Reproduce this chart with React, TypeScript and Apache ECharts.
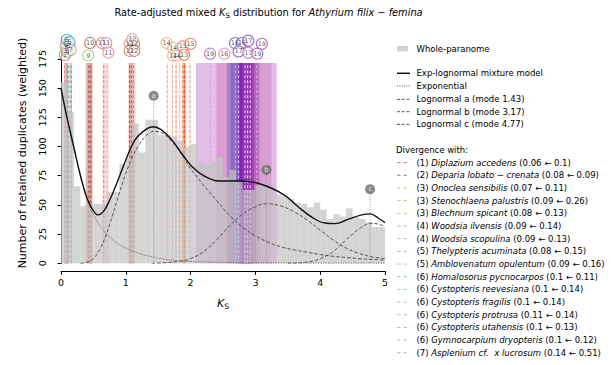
import React, { useEffect, useRef } from 'react';
import * as echarts from 'echarts';

const FONT = 'DejaVu Sans';

// ---------- histogram (bin width 0.1 Ks) ----------
const binWidth = 0.1;
const histValues = [
  155, 130, 66, 49, 51, 51, 51, 61, 61, 85,
  90, 120, 95, 123, 123, 110, 110, 108, 105, 100,
  102, 87, 85, 87, 91, 74, 80, 70, 63, 63,
  67, 66, 66, 59, 58, 55, 52, 51, 48, 52,
  46, 38, 42, 40, 47, 40, 38, 35, 31, 31,
];

// ---------- fitted curves [Ks, value] ----------
const mixtureCurve = [
  [0, 150], [0.05, 136], [0.1, 123], [0.15, 111], [0.2, 99], [0.3, 75], [0.4, 56], [0.5, 45],
  [0.57, 41.5], [0.65, 44], [0.75, 54], [0.85, 67], [1.0, 88.5], [1.14, 105.5], [1.3, 114.3],
  [1.42, 117], [1.55, 114.3], [1.71, 105.7], [1.86, 94.3], [2.02, 83], [2.22, 74.5],
  [2.43, 70.5], [2.6, 70.5], [2.8, 70.5], [3.04, 68.6], [3.25, 64.3], [3.46, 58], [3.66, 48.5],
  [3.87, 39.5], [4.07, 34.5], [4.23, 34], [4.43, 37.7], [4.64, 41.5], [4.77, 42.3],
  [4.9, 38.6], [5.0, 34.8],
];
const exponentialCurve = [
  [0, 150], [0.1, 122], [0.2, 98], [0.3, 76], [0.4, 55], [0.5, 42], [0.6, 32], [0.7, 25.5],
  [0.8, 20], [0.9, 16], [1.0, 13], [1.2, 8.5], [1.4, 5.5], [1.6, 3.5], [1.8, 2.3], [2.0, 1.6],
  [2.5, 0.8], [3.0, 0.4], [4.0, 0.2], [5.0, 0.1],
];
const lognormalA = [
  [0.3, 0], [0.4, 1], [0.5, 4], [0.6, 12], [0.7, 25], [0.8, 42], [0.9, 60], [1.0, 77],
  [1.1, 91], [1.2, 101], [1.3, 108.5], [1.43, 113], [1.55, 112], [1.7, 105], [1.8, 98],
  [1.9, 90], [2.0, 81], [2.2, 67], [2.4, 54], [2.6, 41], [2.8, 31], [3.0, 23.5], [3.2, 18],
  [3.4, 14], [3.6, 11.5], [3.8, 9.5], [4.0, 7.5], [4.2, 6], [4.4, 5], [4.6, 4], [4.8, 3.3], [5.0, 2.8],
];
const lognormalB = [
  [1.4, 0], [1.6, 0.5], [1.8, 1.5], [2.0, 4], [2.2, 10], [2.4, 20], [2.6, 32], [2.8, 42],
  [3.0, 48.5], [3.17, 51], [3.4, 49], [3.6, 44], [3.8, 37], [4.0, 28.5], [4.2, 20], [4.4, 13],
  [4.6, 8.5], [4.8, 5.5], [5.0, 4],
];
const lognormalC = [
  [3.5, 0], [3.7, 0.5], [3.9, 2], [4.0, 4], [4.1, 6.5], [4.2, 10], [4.3, 15], [4.4, 20],
  [4.5, 25], [4.6, 29.5], [4.7, 33], [4.78, 34.3], [4.9, 33.5], [5.0, 31.5],
];

// ---------- peak markers ----------
const peakLabels = ['a', 'b', 'c'];
const peakKs = [1.43, 3.17, 4.77];
const peakMarkerY = [143.5, 80, 63.5];

// ---------- divergence lines / bands ----------
const bandTop = 171.5;
const divKs = [
  0.06, 0.08, 0.07, 0.09, 0.08, 0.09, 0.09, 0.08, 0.09, 0.1, 0.1, 0.1, 0.11, 0.1, 0.1, 0.14, 0.16,
  0.41, 0.43, 0.46,
  0.66, 0.71,
  1.06, 1.09, 1.12,
  1.64, 1.72, 1.775, 1.83, 1.905, 1.88, 1.99,
  2.3, 2.52, 2.69, 2.74, 2.84, 2.88, 2.92, 3.02,
];
const divLow = [
  0.05, 0.075, 0.065, 0.08, 0.075, 0.085, 0.085, 0.075, 0.085, 0.095, 0.095, 0.095, 0.105, 0.095, 0.095, 0.13, 0.15,
  0.39, 0.38, 0.43,
  0.64, 0.69,
  1.04, 1.06, 1.1,
  1.635, 1.715, 1.77, 1.825, 1.885, 1.875, 1.985,
  2.08, 2.4, 2.56, 2.62, 2.73, 2.76, 2.79, 2.8,
];
const divHigh = [
  0.07, 0.085, 0.075, 0.1, 0.085, 0.095, 0.095, 0.085, 0.095, 0.105, 0.105, 0.105, 0.115, 0.105, 0.105, 0.15, 0.17,
  0.43, 0.48, 0.49,
  0.69, 0.74,
  1.09, 1.12, 1.15,
  1.645, 1.725, 1.78, 1.835, 1.925, 1.885, 1.995,
  3.33, 3.25, 2.96, 2.94, 2.94, 2.98, 3.04, 3.07,
];
const divColor = [
  '#f07878', '#7b7be0', '#e6c088', '#e6c088', '#e6c088', '#8fd89c', '#8fd89c', '#f2a6c2', '#f2a6c2',
  '#8fd0d8', '#8fd0d8', '#8fd0d8', '#8fd0d8', '#8fd0d8', '#8fd0d8', '#d9a890', '#a8a8a8',
  '#88dd88', '#c05858', '#c87060',
  '#e89090', '#f0a8a8',
  '#c86060', '#d07868', '#d89078',
  '#f8b8a0', '#f8b8a0', '#f8a890', '#f8b8a0', '#ff5a1e', '#f89070', '#f8b090',
  '#c070c8', '#c860b0', '#6a50c8', '#5a3cb8', '#6010a0', '#7a18a8', '#9a30b0', '#b040b8',
];
const divAlpha = [
  0.5, 0.5, 0.5, 0.5, 0.5, 0.5, 0.5, 0.5, 0.5, 0.5, 0.5, 0.5, 0.5, 0.5, 0.5, 0.5, 0.5,
  0.3, 0.35, 0.35,
  0.3, 0.3,
  0.35, 0.35, 0.35,
  0.5, 0.5, 0.5, 0.5, 0.55, 0.4, 0.5,
  0.45, 0.35, 0.4, 0.35, 0.5, 0.5, 0.4, 0.35,
];
const divLineColor = [
  '#f07878', '#7b7be0', '#e6c088', '#e6c088', '#e6c088', '#8fd89c', '#8fd89c', '#f2a6c2', '#f2a6c2',
  '#5fb8c4', '#5fb8c4', '#8fd0d8', '#5fb8c4', '#8fd0d8', '#5fb8c4', '#d9a890', '#a0a0a0',
  '#88dd88', '#b04848', '#b85848',
  '#e08080', '#f0a8a8',
  '#b85050', '#c86858', '#d08870',
  '#f8a890', '#f8a890', '#f89878', '#f8b8a0', '#ff4a10', '#f88060', '#f8a080',
  '#d8a0e0', '#e8a0d0', '#c0b0f8', '#d0c0f8', '#e8d0f8', '#f0d8f8', '#e8c8f0', '#d8a8e0',
];

// ---------- numbered circles (species id, Ks, height) ----------
const circleId = [
  '1', '2', '3', '3', '4', '5', '6', '6', '7',
  '9', '10',
  '11', '11', '11',
  '12', '12', '12', '12', '12',
  '14', '14', '14', '14', '15', '15', '13',
  '19', '16', '16', '16', '17', '17', '17', '19', '19',
];
const circleKs = [
  0.06, 0.095, 0.07, 0.12, 0.1, 0.08, 0.09, 0.13, 0.15,
  0.42, 0.45,
  0.63, 0.7, 0.73,
  1.06, 1.13, 1.06, 1.13, 1.1,
  1.63, 1.73, 1.73, 1.79, 1.88, 2.0, 1.9,
  2.3, 2.52, 2.685, 2.79, 2.74, 2.89, 2.89, 3.1, 3.03,
];
const circleY = [
  178.5, 183.5, 185.5, 186, 181, 188, 191.5, 189.5, 183,
  178, 188.8,
  188.7, 188.7, 180.5,
  188, 188, 182, 182, 192,
  188.7, 184.5, 177.8, 177.8, 185.8, 188, 178.6,
  179.6, 179.6, 188.7, 188.7, 181.5, 190.7, 180.3, 188, 179.6,
];
const circleColor = [
  '#f07070', '#7b7be0', '#e0a860', '#e0a860', '#70c878', '#f2a0c0', '#3aa6b6', '#3aa6b6', '#c89070',
  '#80d880', '#c06060',
  '#e08080', '#e08080', '#e08888',
  '#d89080', '#d07070', '#d07070', '#c86060', '#e0a080',
  '#f8a888', '#f8a888', '#f8a888', '#f8a888', '#f06848', '#f07050', '#f86030',
  '#b060c0', '#e080b0', '#6060c8', '#6060c8', '#8050c0', '#9040c0', '#c060c8', '#a050c0', '#a050c0',
];

// ---------- legend ----------
const legendNum = ['1', '2', '3', '3', '3', '4', '4', '5', '5', '6', '6', '6', '6', '6', '6', '7'];
const legendName = [
  'Diplazium accedens', 'Deparia lobato − crenata', 'Onoclea sensibilis', 'Stenochlaena palustris',
  'Blechnum spicant', 'Woodsia ilvensis', 'Woodsia scopulina', 'Thelypteris acuminata',
  'Amblovenatum opulentum', 'Homalosorus pycnocarpos', 'Cystopteris reevesiana', 'Cystopteris fragilis',
  'Cystopteris protrusa', 'Cystopteris utahensis', 'Gymnocarpium dryopteris', 'Asplenium cf.  x lucrosum',
];
const legendRange = [
  '(0.06 ← 0.1)', '(0.08 ← 0.09)', '(0.07 ← 0.11)', '(0.09 ← 0.26)', '(0.08 ← 0.13)', '(0.09 ← 0.14)',
  '(0.09 ← 0.13)', '(0.08 ← 0.15)', '(0.09 ← 0.16)', '(0.1 ← 0.11)', '(0.1 ← 0.14)', '(0.1 ← 0.14)',
  '(0.11 ← 0.14)', '(0.1 ← 0.13)', '(0.1 ← 0.12)', '(0.14 ← 0.51)',
];
const legendColor = [
  '#f07878', '#7b7be0', '#e6c088', '#e6c088', '#e6c088', '#8fd89c', '#8fd89c', '#f2a6c2', '#f2a6c2',
  '#8fd0d8', '#8fd0d8', '#8fd0d8', '#8fd0d8', '#8fd0d8', '#8fd0d8', '#d9a890',
];
const modelLegend = [
  'Exp-lognormal mixture model', 'Exponential', 'Lognormal a (mode 1.43)',
  'Lognormal b (mode 3.17)', 'Lognormal c (mode 4.77)',
];

const yTickValues = [0, 25, 50, 75, 100, 125, 150, 175];

export default function App() {
  const ref = useRef<HTMLDivElement>(null);

  useEffect(() => {
    const chart = echarts.init(ref.current as HTMLDivElement, null, { renderer: 'svg' });

    const LX = 397;
    const LT = 416.5;
    const graphic: any[] = [];
    const legFont = 8.5;

    graphic.push({
      type: 'text', x: 268.5, y: 12,
      style: {
        text: '{t|Rate-adjusted mixed }{i|K}{s|S}{t| distribution for }{i|Athyrium filix − femina}',
        align: 'center', verticalAlign: 'middle',
        rich: {
          t: { fontSize: 9.8, fontFamily: FONT, fill: '#000', lineHeight: 14 },
          i: { fontSize: 9.8, fontFamily: FONT, fontStyle: 'italic', fill: '#000', lineHeight: 14 },
          s: { fontSize: 7, fontFamily: FONT, fill: '#000', lineHeight: 8, verticalAlign: 'bottom' },
        },
      },
    });
    graphic.push({
      type: 'text', x: 223, y: 303,
      style: {
        text: '{i|K}{s|S}', align: 'center', verticalAlign: 'middle',
        rich: {
          i: { fontSize: 11, fontFamily: FONT, fontStyle: 'italic', fill: '#000', lineHeight: 14 },
          s: { fontSize: 7.5, fontFamily: FONT, fill: '#000', lineHeight: 8, verticalAlign: 'bottom' },
        },
      },
    });
    graphic.push({
      type: 'text', x: 22, y: 153, rotation: Math.PI / 2,
      style: {
        text: 'Number of retained duplicates (weighted)', fontSize: 11, fontFamily: FONT,
        fill: '#000', align: 'center', verticalAlign: 'middle',
      },
    });

    // model legend
    graphic.push({ type: 'rect', shape: { x: LX, y: 46, width: 11, height: 5.5 }, style: { fill: '#d3d3d3' } });
    graphic.push({
      type: 'text', x: LT, y: 49,
      style: { text: 'Whole-paranome', fontSize: legFont, fontFamily: FONT, fill: '#000', verticalAlign: 'middle' },
    });
    const modelY = [73.3, 86, 99.3, 111.7, 124.3];
    const modelStyle = [
      { stroke: '#111', lineWidth: 1.5 },
      { stroke: '#555', lineWidth: 1, lineDash: [1, 1.3] },
      { stroke: '#555', lineWidth: 1, lineDash: [3, 1.7] },
      { stroke: '#555', lineWidth: 1, lineDash: [3, 1.7] },
      { stroke: '#555', lineWidth: 1, lineDash: [3, 1.7] },
    ];
    modelLegend.forEach((t, i) => {
      graphic.push({ type: 'line', shape: { x1: LX, y1: modelY[i], x2: LX + 13, y2: modelY[i] }, style: modelStyle[i] });
      graphic.push({
        type: 'text', x: LT, y: modelY[i],
        style: { text: t, fontSize: legFont, fontFamily: FONT, fill: '#000', verticalAlign: 'middle' },
      });
    });
    graphic.push({
      type: 'text', x: 396, y: 150,
      style: { text: 'Divergence with:', fontSize: legFont, fontFamily: FONT, fill: '#000', verticalAlign: 'middle' },
    });
    legendName.forEach((name, i) => {
      const y = 162.6 + i * 12.68;
      graphic.push({
        type: 'line', shape: { x1: LX, y1: y, x2: LX + 13, y2: y },
        style: { stroke: legendColor[i], lineWidth: 1, lineDash: [3.5, 3] },
      });
      graphic.push({
        type: 'text', x: LT, y,
        style: {
          text: `{n|(${legendNum[i]}) }{i|${name}}{n| ${legendRange[i]}}`,
          verticalAlign: 'middle',
          rich: {
            n: { fontSize: legFont, fontFamily: FONT, fill: '#000' },
            i: { fontSize: legFont, fontFamily: FONT, fontStyle: 'italic', fill: '#000' },
          },
        },
      });
    });

    const option: any = {
      animation: false,
      backgroundColor: '#fff',
      grid: { left: 61, right: 226, top: 38, bottom: 101.7, containLabel: false },
      xAxis: {
        type: 'value', min: 0, max: 5, interval: 1, offset: 8,
        axisLine: { show: true, onZero: false, lineStyle: { color: '#000', width: 1 } },
        axisTick: { show: true, length: 3.5, lineStyle: { color: '#000', width: 1 } },
        axisLabel: { fontSize: 9.5, fontFamily: FONT, color: '#000', margin: 6 },
        splitLine: { show: false },
      },
      yAxis: {
        type: 'value', min: 0, max: 193, interval: 25, offset: 8,
        axisLine: { show: true, lineStyle: { color: '#000', width: 1 } },
        axisTick: { show: true, length: 3.5, customValues: yTickValues, lineStyle: { color: '#000', width: 1 } },
        axisLabel: { fontSize: 9.5, fontFamily: FONT, color: '#000', margin: 6, rotate: 90, customValues: yTickValues },
        splitLine: { show: false },
      },
      series: [
        {
          type: 'custom', z: 1, silent: true,
          data: divKs.map((k, i) => [divLow[i], divHigh[i], i]),
          encode: { x: [0, 1] },
          renderItem: (params: any, api: any) => {
            const i = params.dataIndex;
            const p0 = api.coord([divLow[i], 0]);
            const p1 = api.coord([divHigh[i], bandTop]);
            return {
              type: 'rect',
              shape: { x: p0[0], y: p1[1], width: Math.max(p1[0] - p0[0], 0.8), height: p0[1] - p1[1] },
              style: { fill: divColor[i], opacity: divAlpha[i] },
            };
          },
        },
        {
          type: 'custom', z: 2, silent: true,
          data: divKs.map((k, i) => [k, i]),
          encode: { x: 0 },
          renderItem: (params: any, api: any) => {
            const i = params.dataIndex;
            const p0 = api.coord([divKs[i], 0]);
            const p1 = api.coord([divKs[i], bandTop]);
            return {
              type: 'line',
              shape: { x1: p0[0], y1: p0[1], x2: p1[0], y2: p1[1] },
              style: { stroke: divLineColor[i], lineWidth: 1.1, lineDash: [3, 2] },
            };
          },
        },
        {
          type: 'custom', z: 3, silent: true,
          data: histValues.map((v, i) => [i * binWidth, (i + 1) * binWidth, v]),
          encode: { x: [0, 1], y: 2 },
          renderItem: (params: any, api: any) => {
            const p0 = api.coord([api.value(0), 0]);
            const p1 = api.coord([api.value(1), api.value(2)]);
            return {
              type: 'rect',
              shape: { x: p0[0], y: p1[1], width: p1[0] - p0[0], height: p0[1] - p1[1] },
              style: { fill: '#c4c4c4', opacity: 0.72 },
            };
          },
        },
        {
          type: 'custom', z: 4, silent: true,
          data: peakKs.map((k, i) => [k, peakMarkerY[i]]),
          encode: { x: 0, y: 1 },
          renderItem: (params: any, api: any) => {
            const i = params.dataIndex;
            const p0 = api.coord([peakKs[i], peakMarkerY[i]]);
            const p1 = api.coord([peakKs[i], 0]);
            return {
              type: 'line',
              shape: { x1: p0[0], y1: p0[1], x2: p1[0], y2: p1[1] },
              style: { stroke: '#9a9a9a', lineWidth: 1, lineDash: [1, 1.5] },
            };
          },
        },
        {
          type: 'line', z: 5, silent: true, data: exponentialCurve, smooth: 0.4, showSymbol: false,
          lineStyle: { color: '#555', width: 1, type: [1, 1.5] },
        },
        {
          type: 'line', z: 5, silent: true, data: lognormalA, smooth: 0.4, showSymbol: false,
          lineStyle: { color: '#555', width: 1, type: [3.5, 2] },
        },
        {
          type: 'line', z: 5, silent: true, data: lognormalB, smooth: 0.4, showSymbol: false,
          lineStyle: { color: '#555', width: 1, type: [3.5, 2] },
        },
        {
          type: 'line', z: 5, silent: true, data: lognormalC, smooth: 0.4, showSymbol: false,
          lineStyle: { color: '#555', width: 1, type: [3.5, 2] },
        },
        {
          type: 'line', z: 6, silent: true, data: mixtureCurve, smooth: 0.4, showSymbol: false,
          lineStyle: { color: '#111', width: 1.4 },
        },
        {
          type: 'scatter', z: 7, silent: true, symbol: 'circle', symbolSize: 10,
          data: peakKs.map((k, i) => [k, peakMarkerY[i]]),
          itemStyle: { color: '#6b6b6b' },
          label: {
            show: true, position: 'inside', formatter: (p: any) => peakLabels[p.dataIndex],
            color: '#fff', fontSize: 7, fontFamily: FONT,
          },
        },
        {
          type: 'scatter', z: 8, silent: true, symbol: 'circle', symbolSize: 11, clip: false,
          data: circleKs.map((k, i) => ({
            value: [k, circleY[i]],
            itemStyle: { color: 'rgba(255,255,255,0.8)', borderColor: circleColor[i], borderWidth: 1.1 },
          })),
          label: {
            show: true, position: 'inside', formatter: (p: any) => circleId[p.dataIndex],
            color: '#333', fontSize: 6.5, fontFamily: FONT,
          },
        },
      ],
      graphic,
    };

    chart.setOption(option);
    return () => chart.dispose();
  }, []);

  return (
    <div
      ref={ref}
      style={{ position: 'absolute', left: 0, top: 0, width: 611, height: 365, background: '#fff' }}
    />
  );
}
